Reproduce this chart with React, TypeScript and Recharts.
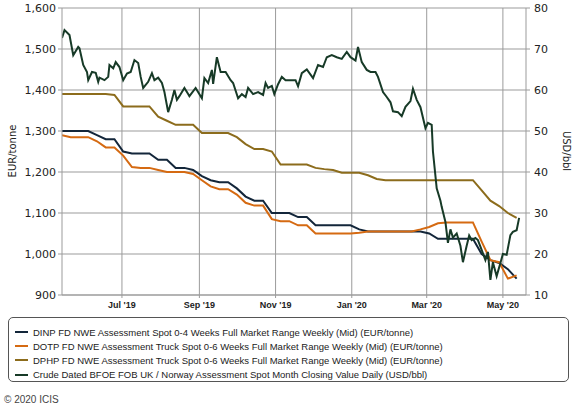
import { ComposedChart, Line, XAxis, YAxis, CartesianGrid } from "recharts"

const weekDates = [
  "2019-05-14", "2019-05-21", "2019-05-28",
  "2019-06-04", "2019-06-11", "2019-06-18", "2019-06-25",
  "2019-07-02", "2019-07-09", "2019-07-16", "2019-07-23", "2019-07-30",
  "2019-08-06", "2019-08-13", "2019-08-20", "2019-08-27",
  "2019-09-03", "2019-09-10", "2019-09-17", "2019-09-24",
  "2019-10-01", "2019-10-08", "2019-10-15", "2019-10-22", "2019-10-29",
  "2019-11-05", "2019-11-12", "2019-11-19", "2019-11-26",
  "2019-12-03", "2019-12-10", "2019-12-17", "2019-12-24", "2019-12-31",
  "2020-01-07", "2020-01-14", "2020-01-21", "2020-01-28",
  "2020-02-04", "2020-02-11", "2020-02-18", "2020-02-25",
  "2020-03-03", "2020-03-10", "2020-03-17", "2020-03-24", "2020-03-31",
  "2020-04-07", "2020-04-14", "2020-04-21", "2020-04-28",
  "2020-05-05", "2020-05-12",
]

// EUR/tonne, weekly
const dinp = [
  1300, 1300, 1300, 1300, 1290, 1280, 1280, 1250, 1245, 1245, 1245, 1230, 1230,
  1210, 1210, 1205, 1190, 1180, 1175, 1175, 1160, 1140, 1130, 1130, 1100, 1100,
  1100, 1090, 1090, 1070, 1070, 1070, 1070, 1070, 1060, 1055, 1055, 1055, 1055,
  1055, 1055, 1055, 1050, 1037, 1037, 1037, 1037, 1037, 1000, 985, 978, 963, 940,
]
const dotp = [
  1290, 1285, 1285, 1285, 1275, 1260, 1260, 1240, 1212, 1210, 1210, 1205, 1200,
  1200, 1200, 1195, 1180, 1165, 1158, 1158, 1145, 1125, 1118, 1118, 1085, 1080,
  1080, 1070, 1070, 1050, 1050, 1050, 1050, 1050, 1052, 1055, 1055, 1055, 1055,
  1055, 1055, 1060, 1066, 1075, 1077, 1077, 1077, 1077, 1030, 985, 980, 940, 948,
]
const dphp = [
  1390, 1390, 1390, 1390, 1390, 1390, 1388, 1360, 1360, 1360, 1360, 1335, 1325,
  1315, 1315, 1315, 1295, 1295, 1295, 1295, 1285, 1268, 1256, 1256, 1250, 1218,
  1218, 1218, 1218, 1210, 1207, 1205, 1198, 1198, 1198, 1192, 1183, 1180, 1180,
  1180, 1180, 1180, 1180, 1180, 1180, 1180, 1180, 1180, 1155, 1130, 1117, 1100, 1088,
]

// USD/bbl, daily closing
const crude: [string, number][] = [
  ["2019-05-14", 72.7], ["2019-05-16", 74.6], ["2019-05-19", 73.7], ["2019-05-20", 73.4],
  ["2019-05-23", 68.5], ["2019-05-27", 70.5], ["2019-05-28", 70.2], ["2019-05-31", 66.1],
  ["2019-06-03", 64.4], ["2019-06-04", 62.4], ["2019-06-07", 64.4], ["2019-06-10", 64.2],
  ["2019-06-12", 62.0], ["2019-06-13", 63.0], ["2019-06-17", 62.4], ["2019-06-20", 63.2],
  ["2019-06-21", 66.1], ["2019-06-24", 65.3], ["2019-06-26", 66.8], ["2019-06-29", 65.6],
  ["2019-07-02", 62.4], ["2019-07-05", 64.0], ["2019-07-08", 64.4], ["2019-07-11", 67.3],
  ["2019-07-14", 66.6], ["2019-07-16", 63.2], ["2019-07-18", 60.5], ["2019-07-22", 62.0],
  ["2019-07-25", 64.1], ["2019-07-27", 62.4], ["2019-07-30", 63.0], ["2019-08-02", 61.7],
  ["2019-08-04", 59.5], ["2019-08-07", 54.6], ["2019-08-10", 57.6], ["2019-08-12", 60.0],
  ["2019-08-14", 57.6], ["2019-08-16", 58.5], ["2019-08-20", 60.5], ["2019-08-23", 59.0],
  ["2019-08-24", 58.5], ["2019-08-29", 60.5], ["2019-09-03", 58.0], ["2019-09-05", 62.9],
  ["2019-09-08", 61.7], ["2019-09-11", 64.9], ["2019-09-12", 61.5], ["2019-09-15", 68.0],
  ["2019-09-18", 64.4], ["2019-09-22", 64.4], ["2019-09-26", 62.4], ["2019-09-28", 61.7],
  ["2019-10-02", 58.0], ["2019-10-05", 59.0], ["2019-10-08", 58.3], ["2019-10-10", 60.5],
  ["2019-10-14", 59.0], ["2019-10-18", 59.5], ["2019-10-22", 58.8], ["2019-10-24", 61.7],
  ["2019-10-26", 60.5], ["2019-10-29", 61.0], ["2019-10-31", 59.0], ["2019-11-03", 61.4],
  ["2019-11-06", 63.2], ["2019-11-09", 62.4], ["2019-11-13", 62.4], ["2019-11-17", 62.4],
  ["2019-11-19", 60.9], ["2019-11-22", 64.1], ["2019-11-26", 65.0], ["2019-12-01", 62.9],
  ["2019-12-05", 66.1], ["2019-12-09", 65.6], ["2019-12-12", 68.0], ["2019-12-16", 68.5],
  ["2019-12-20", 68.0], ["2019-12-24", 67.6], ["2019-12-28", 69.3], ["2019-12-31", 68.0],
  ["2020-01-04", 67.2], ["2020-01-06", 70.5], ["2020-01-09", 66.8], ["2020-01-13", 64.9],
  ["2020-01-16", 64.4], ["2020-01-20", 64.4], ["2020-01-22", 63.2], ["2020-01-26", 59.5],
  ["2020-01-29", 58.3], ["2020-02-01", 57.0], ["2020-02-03", 54.8], ["2020-02-07", 54.6],
  ["2020-02-10", 53.6], ["2020-02-13", 55.9], ["2020-02-17", 57.3], ["2020-02-19", 60.3],
  ["2020-02-22", 57.6], ["2020-02-25", 55.8], ["2020-02-29", 50.7], ["2020-03-02", 52.0],
  ["2020-03-05", 51.5], ["2020-03-06", 45.0], ["2020-03-09", 36.0], ["2020-03-12", 33.0],
  ["2020-03-13", 31.5], ["2020-03-16", 27.8], ["2020-03-18", 22.7], ["2020-03-20", 26.0],
  ["2020-03-22", 24.0], ["2020-03-25", 25.0], ["2020-03-28", 22.0], ["2020-03-30", 18.0],
  ["2020-04-02", 22.0], ["2020-04-04", 24.5], ["2020-04-06", 23.4], ["2020-04-09", 23.9],
  ["2020-04-11", 23.4], ["2020-04-14", 21.0], ["2020-04-17", 18.5], ["2020-04-19", 20.5],
  ["2020-04-21", 13.7], ["2020-04-23", 18.0], ["2020-04-26", 14.6], ["2020-04-29", 17.8],
  ["2020-05-01", 20.0], ["2020-05-04", 19.8], ["2020-05-07", 24.6], ["2020-05-09", 25.4],
  ["2020-05-12", 25.8], ["2020-05-14", 28.8],
]

const monthTicks = ["2019-07-01", "2019-09-01", "2019-11-01", "2020-01-01", "2020-03-01", "2020-05-01"]
const monthLabels = ["Jul '19", "Sep '19", "Nov '19", "Jan '20", "Mar '20", "May '20"]
const leftTicks = [900, 1000, 1100, 1200, 1300, 1400, 1500, 1600]
const rightTicks = [10, 20, 30, 40, 50, 60, 70, 80]

const series = [
  { key: "dinp", color: "#13263a", name: "DINP FD NWE Assessment Spot 0-4 Weeks Full Market Range Weekly (Mid) (EUR/tonne)" },
  { key: "dotp", color: "#d56a12", name: "DOTP FD NWE Assessment Truck Spot 0-6 Weeks Full Market Range Weekly (Mid) (EUR/tonne)" },
  { key: "dphp", color: "#8c6c1c", name: "DPHP FD NWE Assessment Truck Spot 0-6 Weeks Full Market Range Weekly (Mid) (EUR/tonne)" },
  { key: "crude", color: "#173a27", name: "Crude Dated BFOE FOB UK / Norway Assessment Spot Month Closing Value Daily (USD/bbl)" },
]

const ts = (d: string) => new Date(d + "T00:00:00Z").getTime()
const xStart = ts("2019-05-14")
const xEnd = ts("2020-05-19") + 12 * 3600 * 1000

// one table keyed on time, weekly and daily rows merged
function buildRows() {
  const byT = new Map<number, Record<string, number>>()
  const row = (t: number) => {
    if (!byT.has(t)) byT.set(t, { t })
    return byT.get(t)!
  }
  weekDates.forEach((d, i) => {
    const r = row(ts(d))
    r.dinp = dinp[i]
    r.dotp = dotp[i]
    r.dphp = dphp[i]
  })
  crude.forEach(([d, v]) => {
    row(ts(d)).crude = v
  })
  return [...byT.values()].sort((a, b) => a.t - b.t)
}

const rows = buildRows()
const tickTs = monthTicks.map(ts)
const fmtX = (v: number) => monthLabels[tickTs.indexOf(v)] ?? ""
const fmtLeft = (v: number) => v.toLocaleString("en-US")

const FONT = "'DejaVu Sans', sans-serif"
const SANS = "'Liberation Sans', sans-serif"
const GRID = "#9b9b9b"

export default function App() {
  return (
    <div style={{ position: "relative", width: 576, height: 412, background: "#fff", fontFamily: FONT, color: "#222" }}>
      <style>{`body{margin:0}`}</style>
      <ComposedChart
        width={576}
        height={312}
        data={rows}
        margin={{ top: 8, right: 0, bottom: 0, left: 0 }}
      >
        <CartesianGrid stroke={GRID} strokeWidth={1} horizontalValues={leftTicks} verticalValues={tickTs} yAxisId="left" />
        <XAxis
          dataKey="t"
          type="number"
          domain={[xStart, xEnd]}
          ticks={tickTs}
          tickFormatter={fmtX}
          allowDataOverflow
          height={17}
          tickSize={3}
          tickMargin={4}
          stroke={GRID}
          tick={{ fill: "#222", fontSize: 9, fontWeight: 600, fontFamily: SANS }}
        />
        <YAxis
          yAxisId="left"
          orientation="left"
          domain={[900, 1600]}
          ticks={leftTicks}
          tickFormatter={fmtLeft}
          width={62}
          tickSize={4}
          tickMargin={2}
          stroke={GRID}
          tick={{ fill: "#222", fontSize: 11, fontFamily: FONT }}
        />
        <YAxis
          yAxisId="right"
          orientation="right"
          domain={[10, 80]}
          ticks={rightTicks}
          width={50}
          tickSize={4}
          tickMargin={4}
          stroke={GRID}
          tick={{ fill: "#222", fontSize: 11, fontFamily: FONT, textAnchor: "start" }}
        />
        <Line yAxisId="left" dataKey="dphp" stroke={series[2].color} strokeWidth={2} dot={false} connectNulls isAnimationActive={false} />
        <Line yAxisId="left" dataKey="dinp" stroke={series[0].color} strokeWidth={2} dot={false} connectNulls isAnimationActive={false} />
        <Line yAxisId="left" dataKey="dotp" stroke={series[1].color} strokeWidth={2} dot={false} connectNulls isAnimationActive={false} />
        <Line yAxisId="right" dataKey="crude" stroke={series[3].color} strokeWidth={2} dot={false} connectNulls isAnimationActive={false} />
      </ComposedChart>

      <div style={{ position: "absolute", left: 12, top: 151, transform: "translate(-50%, -50%) rotate(-90deg)", fontSize: 10, whiteSpace: "nowrap" }}>
        EUR/tonne
      </div>
      <div style={{ position: "absolute", left: 566, top: 151, transform: "translate(-50%, -50%) rotate(90deg)", fontSize: 10, whiteSpace: "nowrap" }}>
        USD/bbl
      </div>

      <div
        style={{
          position: "absolute",
          left: 8,
          top: 317,
          width: 559,
          height: 63,
          border: "1px solid #555",
          borderRadius: 5,
          fontFamily: SANS,
          fontSize: 9.5,
        }}
      >
        {series.map((s, i) => (
          <div key={s.key} style={{ position: "absolute", left: 6, top: 7 + i * 14.2, height: 14, display: "flex", alignItems: "center", whiteSpace: "nowrap" }}>
            <span style={{ display: "inline-block", width: 13, height: 2, background: s.color, marginRight: 5 }} />
            {s.name}
          </div>
        ))}
      </div>

      <div style={{ position: "absolute", left: 4, top: 394, fontSize: 10, fontFamily: SANS, color: "#444" }}>
        © 2020 ICIS
      </div>
    </div>
  )
}
